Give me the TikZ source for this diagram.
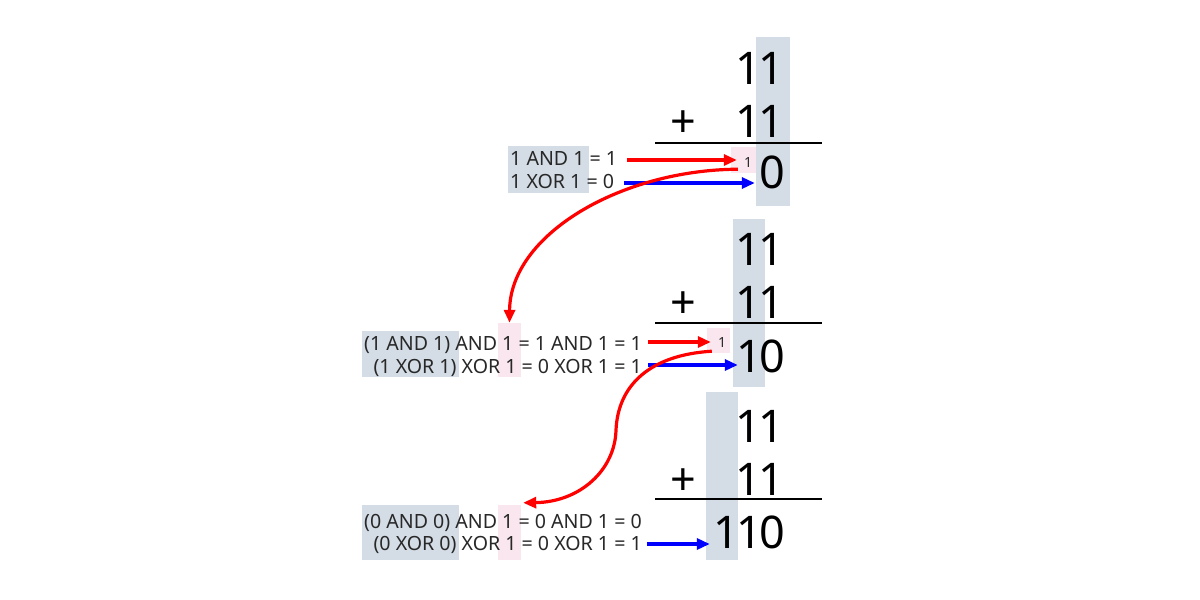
\documentclass[tikz,border=0pt]{standalone}
\usepackage{fontspec}
\setmainfont{Noto Sans}
\usetikzlibrary{arrows.meta}
\definecolor{colgray}{RGB}{212,221,230}
\definecolor{carrypink}{RGB}{249,230,238}
\definecolor{lbltext}{RGB}{40,40,40}
\begin{document}
\begin{tikzpicture}[x=1pt,y=-1pt,
  big/.style={font=\fontsize{45}{45}\selectfont, inner sep=0pt, anchor=base},
  lbl/.style={font=\fontsize{19.6}{22}\selectfont, inner sep=0pt, text=lbltext},
  small/.style={font=\fontsize{14}{14}\selectfont, inner sep=0pt, anchor=base, text=lbltext},
  colbox/.style={fill=colgray, draw=none, inner sep=0pt},
  pinkbox/.style={fill=carrypink, draw=none, inner sep=0pt},
  sumline/.style={line width=2pt},
  redarr/.style={draw=red, line width=3.2pt, -{Triangle[length=13pt,width=11pt]}},
  bluearr/.style={draw=blue, line width=3.2pt, -{Triangle[length=13pt,width=11pt]}},
  redcurve/.style={draw=red, line width=3.2pt, -{Triangle[length=13pt,width=11pt]}},
]
\useasboundingbox (0,0) rectangle (1200,600);
\fill[white] (0,0) rectangle (1200,600);

% ---------- backgrounds ----------
\node[colbox, minimum width=34pt, minimum height=169pt] (col1) at (773,121.5) {};
\node[colbox, minimum width=32pt, minimum height=168pt] (col2) at (749,303) {};
\node[colbox, minimum width=32pt, minimum height=168pt] (col3) at (722,476) {};

\node[pinkbox, minimum width=25pt, minimum height=26pt] (k1) at (743.5,160) {};
\node[pinkbox, minimum width=23pt, minimum height=25pt] (k2) at (718.5,340.5) {};

\node[colbox, minimum width=81pt, minimum height=47pt] (g1) at (548.5,169.5) {};
\node[colbox, minimum width=97pt, minimum height=46pt] (g2) at (410.5,354) {};
\node[pinkbox, minimum width=23pt, minimum height=54pt] (p2) at (509.5,350) {};
\node[colbox, minimum width=97pt, minimum height=55pt] (g3) at (410.5,532.5) {};
\node[pinkbox, minimum width=23pt, minimum height=55pt] (p3) at (509.5,532.5) {};

% ---------- panel 1 ----------
\node[big] (p1at) at (748,84) {1};
\node[big] (p1ao) at (771,84) {1};
\node[big] (p1plus) at (683,137) {+};
\node[big] (p1bt) at (748,137) {1};
\node[big] (p1bo) at (771,137) {1};
\draw[sumline] (655,143) -- (822,143);
\node[big] (p1ro) at (772,188) {0};
\node[small] (c1) at (748,167) {1};

\node[lbl, anchor=base west] (a1) at (510,165) {1 AND 1 = 1};
\node[lbl, anchor=base west] (x1) at (510,188) {1 XOR 1 = 0};

% ---------- panel 2 ----------
\node[big] (p2at) at (748,265) {1};
\node[big] (p2ao) at (771,265) {1};
\node[big] (p2plus) at (683,318) {+};
\node[big] (p2bt) at (748,318) {1};
\node[big] (p2bo) at (771,318) {1};
\draw[sumline] (655,323) -- (822,323);
\node[big] (p2rt) at (749,372) {1};
\node[big] (p2ro) at (772,372) {0};
\node[small] (c2) at (722,347) {1};

\node[lbl, anchor=base east] (a2) at (642,350) {(1 AND 1) AND 1 = 1 AND 1 = 1};
\node[lbl, anchor=base east] (x2) at (642,373) {(1 XOR 1) XOR 1 = 0 XOR 1 = 1};

% ---------- panel 3 ----------
\node[big] (p3at) at (748,442) {1};
\node[big] (p3ao) at (771,442) {1};
\node[big] (p3plus) at (683,495) {+};
\node[big] (p3bt) at (748,495) {1};
\node[big] (p3bo) at (771,495) {1};
\draw[sumline] (655,499) -- (822,499);
\node[big] (p3rh) at (726,548) {1};
\node[big] (p3rt) at (749,548) {1};
\node[big] (p3ro) at (772,548) {0};

\node[lbl, anchor=base east] (a3) at (642,528) {(0 AND 0) AND 1 = 0 AND 1 = 0};
\node[lbl, anchor=base east] (x3) at (642,550) {(0 XOR 0) XOR 1 = 0 XOR 1 = 1};

% ---------- straight arrows ----------
\coordinate (r1s) at ([xshift=10pt,yshift=5pt]a1.base east);
\draw[redarr, shorten >=7pt] (r1s) -- (r1s -| c1.west);
\coordinate (b1s) at ([xshift=10pt,yshift=5pt]x1.base east);
\draw[bluearr, shorten >=1pt] (b1s) -- (b1s -| col1.west);

\coordinate (r2s) at ([xshift=6pt,yshift=8pt]a2.base east);
\draw[redarr, shorten >=7pt] (r2s) -- (r2s -| c2.west);
\coordinate (b2s) at ([xshift=6pt,yshift=8pt]x2.base east);
\draw[bluearr, shorten >=-5pt] (b2s) -- (b2s -| col2.west);

\coordinate (b3s) at ([xshift=5pt,yshift=6pt]x3.base east);
\draw[bluearr, shorten >=-4pt] (b3s) -- (b3s -| col3.west);

% ---------- carry curves ----------
\draw[redcurve] ([xshift=7pt,yshift=4pt]k1.south west)
  .. controls (620,170) and (510,235) .. (p2.north);
\coordinate (m2) at (616,430);
\draw[redcurve] ([xshift=5pt,yshift=2pt]k2.south west)
  .. controls (650,355) and (618,385) .. (m2)
  .. controls (615,470) and (580,502) .. ([xshift=2pt,yshift=2pt]p3.north east);
\end{tikzpicture}
\end{document}
